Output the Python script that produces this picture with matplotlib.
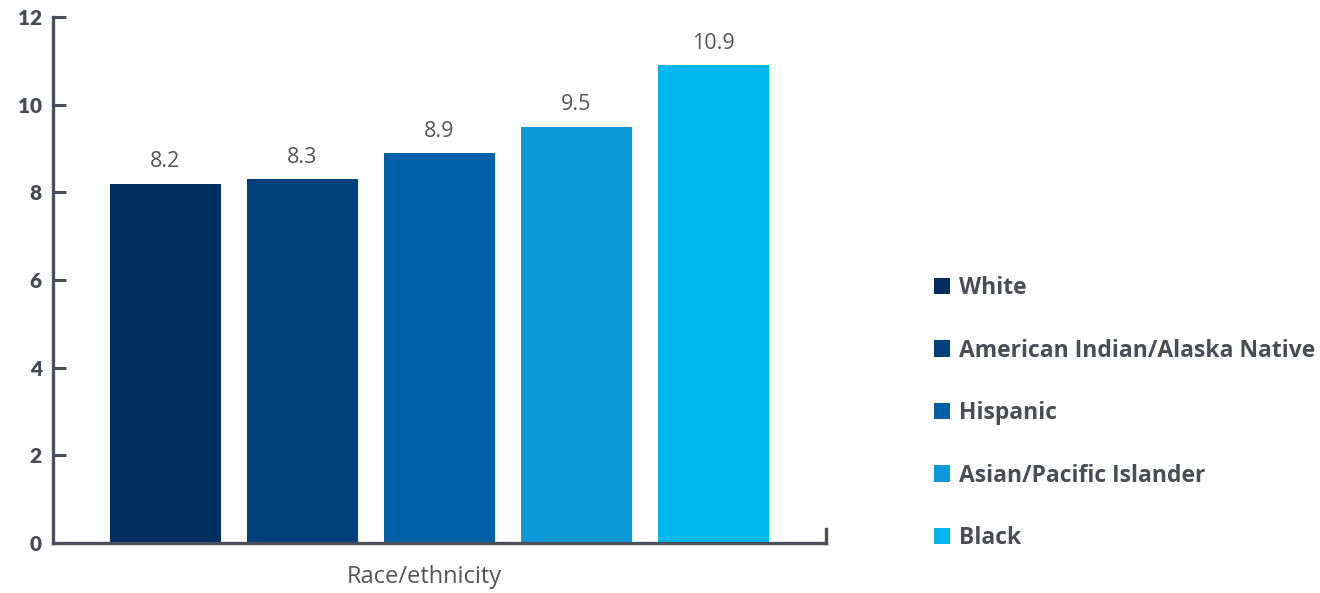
import matplotlib
matplotlib.use("Agg")
import matplotlib.pyplot as plt
from matplotlib.patches import Patch

categories = ["White", "American Indian/Alaska Native", "Hispanic",
              "Asian/Pacific Islander", "Black"]
values = [8.2, 8.3, 8.9, 9.5, 10.9]
colors = ["#002F5F", "#003F7C", "#0060A8", "#0A9AD9", "#00B7EF"]
yticks = [0, 2, 4, 6, 8, 10, 12]
xlabel = "Race/ethnicity"

axis_col = "#4A4F5A"
text_col = "#555555"

fig = plt.figure(figsize=(13.2, 5.93), dpi=100)
ax = fig.add_axes([53/1320, 1-543/593, (826-53)/1320, (543-17)/593])

x = list(range(len(values)))
bars = ax.bar(x, values, width=0.81, color=colors, zorder=2)
for xi, v in zip(x, values):
    ax.annotate(f"{v:.1f}", (xi, v), xytext=(0, 8), textcoords="offset points",
                ha="center", va="bottom", fontsize=15.5, color=text_col,
                family="Open Sans", fontweight="normal")

ax.set_xlim(-0.82, 4.82)
ax.set_ylim(0, 12)
ax.set_yticks(yticks)
ax.set_yticklabels([str(t) for t in yticks], fontsize=15, fontweight="heavy",
                   color="#454A55", family="Lato")
ax.set_xticks([])
ax.tick_params(axis="y", direction="in", length=9, width=2.2, color=axis_col, pad=8)

ax.spines["top"].set_visible(False)
for s in ["left", "bottom", "right"]:
    ax.spines[s].set_color(axis_col)
    ax.spines[s].set_linewidth(2.4)
ax.spines["right"].set_bounds(0, 0.33)

fig.text(424/1320, 1-577/593, xlabel, ha="center", va="center", fontsize=17,
         color=text_col, family="Open Sans", fontweight="normal")

handles = [Patch(facecolor=c, edgecolor="none") for c in colors]
leg = fig.legend(handles, categories, loc="upper left",
                 bbox_to_anchor=(934/1320, 1-276/593), frameon=False,
                 prop={"family": "Open Sans", "weight": "bold", "size": 16.5},
                 labelcolor="#4A4D55", handlelength=0.7, handleheight=0.7,
                 handletextpad=0.4, labelspacing=1.68, borderaxespad=0, borderpad=0)

fig.savefig("out.png", dpi=100, facecolor="white")
